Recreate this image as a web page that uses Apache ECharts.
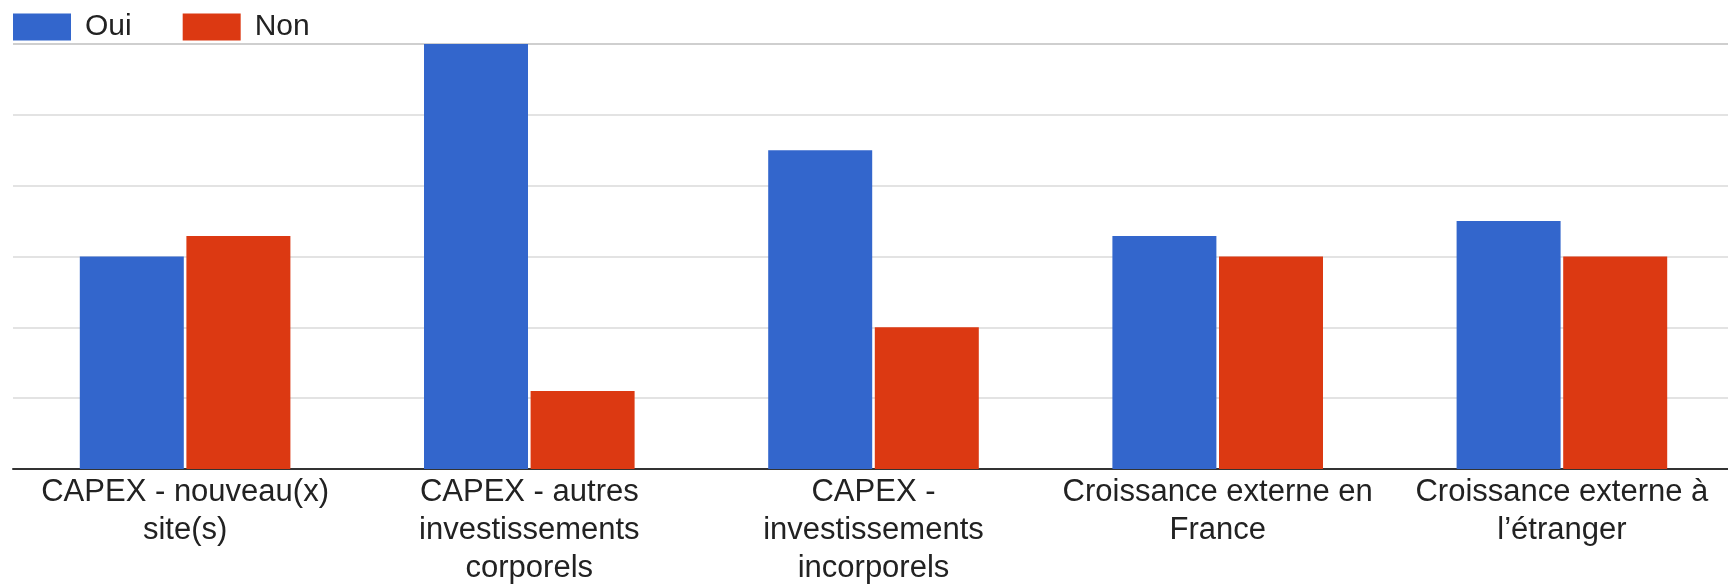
<!DOCTYPE html>
<html>
<head>
<meta charset="utf-8">
<script src="https://cdn.jsdelivr.net/npm/echarts@6/dist/echarts.min.js"></script>
<style>
html,body{margin:0;padding:0;background:#fff;}
#chart{width:1728px;height:586px;}
</style>
</head>
<body>
<div id="chart"></div>
<script>
// Data (units = gridline steps)
const categories = [
  'CAPEX - nouveau(x)\nsite(s)',
  'CAPEX - autres\ninvestissements\ncorporels',
  'CAPEX -\ninvestissements\nincorporels',
  'Croissance externe en\nFrance',
  'Croissance externe à\nl’étranger'
];
const seriesNames = ['Oui', 'Non'];
const ouiValues = [3, 6, 4.5, 3.29, 3.5];
const nonValues = [3.29, 1.1, 2, 3, 3];

const chart = echarts.init(document.getElementById('chart'));
const font = 'Liberation Sans, Arial, sans-serif';
chart.setOption({
  animation: false,
  backgroundColor: '#fff',
  textStyle: { fontFamily: font },
  legend: {
    left: 13, top: 12, padding: 0,
    itemWidth: 58, itemHeight: 27, itemGap: 51,
    icon: 'rect',
    textStyle: { fontSize: 30, color: '#222', fontFamily: font, padding: [0, 0, 0, 9] },
    data: seriesNames
  },
  grid: { left: 13, right: -6, top: 44, bottom: 117, containLabel: false, outerBoundsMode: 'none' },
  xAxis: {
    type: 'category',
    data: categories,
    axisLine: { lineStyle: { color: '#333', width: 2 } },
    axisTick: { show: false },
    axisLabel: { fontSize: 31, color: '#222', lineHeight: 38, margin: 4, interval: 0, fontFamily: font }
  },
  yAxis: {
    type: 'value',
    min: 0, max: 6, interval: 1,
    axisLabel: { show: false },
    axisLine: { show: false },
    axisTick: { show: false },
    splitLine: { lineStyle: { color: ['#e3e3e3','#e3e3e3','#e3e3e3','#e3e3e3','#e3e3e3','#e3e3e3','#cfcfcf'], width: 2 } }
  },
  series: [
    { name: seriesNames[0], type: 'bar', data: ouiValues, barWidth: 104, barGap: '2.5%', itemStyle: { color: '#3366cc' } },
    { name: seriesNames[1], type: 'bar', data: nonValues, barWidth: 104, barGap: '2.5%', itemStyle: { color: '#dc3912' } }
  ]
});
</script>
</body>
</html>
